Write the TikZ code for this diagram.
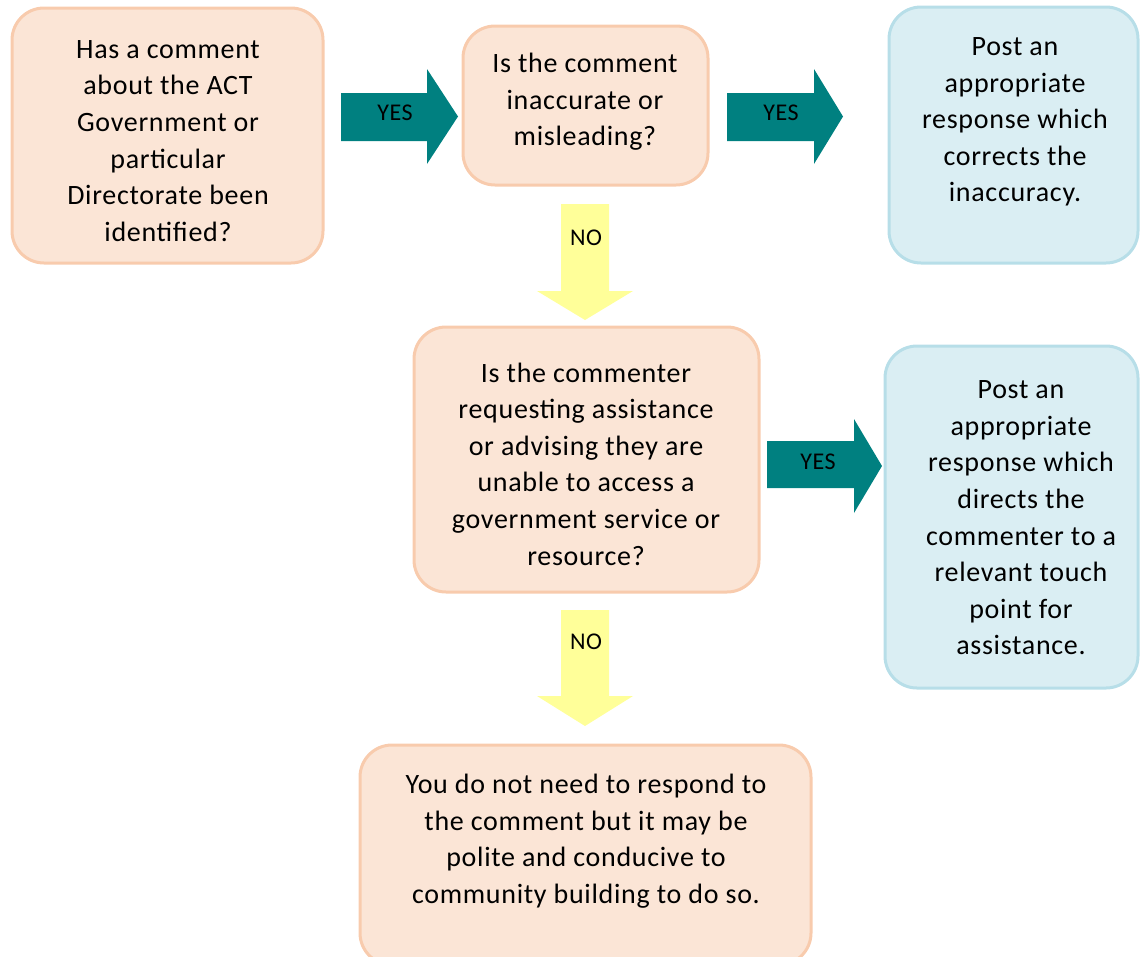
\documentclass[tikz,border=0pt]{standalone}
\usepackage{fontspec}
\setmainfont[LetterSpace=2.5]{Carlito}
\definecolor{orfill}{HTML}{FBE5D6}
\definecolor{ordraw}{HTML}{F8CBAD}
\definecolor{blfill}{HTML}{DAEEF3}
\definecolor{bldraw}{HTML}{B7DEE8}
\definecolor{tealc}{HTML}{008080}
\definecolor{yelc}{HTML}{FFFF99}
\tikzset{
  boxbase/.style={rectangle, line width=3pt, rounded corners=32pt, inner sep=0pt, outer sep=0pt},
  obox/.style={boxbase, draw=ordraw, fill=orfill},
  bbox/.style={boxbase, draw=bldraw, fill=blfill},
  btext/.style={align=center, font=\fontsize{28}{36.6}\selectfont, inner sep=0pt},
  lbl/.style={font=\fontsize{24}{26}\selectfont, inner sep=0pt},
  yesarrow/.style={fill=tealc},
  noarrow/.style={fill=yelc},
}
\begin{document}
\begin{tikzpicture}[x=1pt,y=-1pt]
\useasboundingbox (0,0) rectangle (1140,956);
% boxes
\node[obox, minimum width=311pt, minimum height=255pt] (A) at (167.5,135.5) {};
\node[obox, minimum width=245pt, minimum height=159pt] (B) at (585.5,105.5) {};
\node[bbox, minimum width=249pt, minimum height=256pt] (C) at (1013.5,135) {};
\node[obox, minimum width=345pt, minimum height=265pt] (D) at (586.5,459.5) {};
\node[bbox, minimum width=253pt, minimum height=342pt] (E) at (1011.5,517) {};
\node[obox, minimum width=451pt, minimum height=220pt] (F) at (585.5,855) {};
% texts
\node[btext] (At) at (168,141) {Has a comment\\about the ACT\\Government or\\particular\\Directorate been\\identified?};
\node[btext] (Bt) at (585,102) {Is the comment\\inaccurate or\\misleading?};
\node[btext] (Ct) at (1015,122) {Post an\\appropriate\\response which\\corrects the\\inaccuracy.};
\node[btext] (Dt) at (586,464) {Is the commenter\\requesting assistance\\or advising they are\\unable to access a\\government service or\\resource?};
\node[btext] (Et) at (1021,518) {Post an\\appropriate\\response which\\directs the\\commenter to a\\relevant touch\\point for\\assistance.};
\node[btext] (Ft) at (586,841) {You do not need to respond to\\the comment but it may be\\polite and conducive to\\community building to do so.};
% block arrows
\fill[yesarrow] (341,93) -- (427,93) -- (427,69) -- (458,116.5) -- (427,164) -- (427,141) -- (341,141) -- cycle;
\fill[yesarrow] (727,93) -- (814,93) -- (814,69) -- (843,116.5) -- (814,164) -- (814,141) -- (727,141) -- cycle;
\fill[yesarrow] (767,441) -- (854,441) -- (854,419) -- (882,466) -- (854,513) -- (854,488) -- (767,488) -- cycle;
\fill[noarrow] (561,204) -- (609,204) -- (609,291) -- (633,291) -- (585,320) -- (537,291) -- (561,291) -- cycle;
\fill[noarrow] (561,610) -- (609,610) -- (609,696) -- (633,696) -- (585,726) -- (537,696) -- (561,696) -- cycle;
% labels
\node[lbl] (y1) at (395,113) {YES};
\node[lbl] (y2) at (781,113) {YES};
\node[lbl] (y3) at (818,462) {YES};
\node[lbl] (n1) at (586,238) {NO};
\node[lbl] (n2) at (586,642) {NO};
\end{tikzpicture}
\end{document}
